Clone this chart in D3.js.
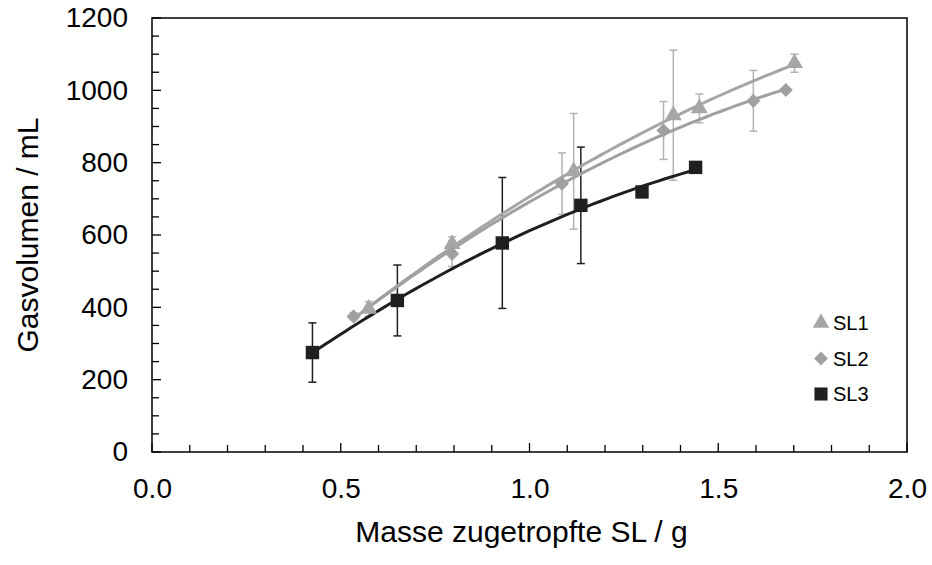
<!DOCTYPE html>
<html>
<head>
<meta charset="utf-8">
<script src="https://cdn.jsdelivr.net/npm/d3@7"></script>
<style>
body { margin: 0; background: #fff; }
svg text { font-family: Arial, "Liberation Sans", sans-serif; fill: #000; }
</style>
</head>
<body>
<div id="chart"></div>
<script>
// data
const seriesNames = ["SL1", "SL2", "SL3"];
const sl1X = [0.574, 0.795, 1.117, 1.381, 1.450, 1.702];
const sl1Y = [396, 575, 776, 931, 950, 1075];
const sl1Err = [20, 20, 160, 180, 40, 25];
const sl2X = [0.534, 0.795, 1.086, 1.355, 1.593, 1.679];
const sl2Y = [375, 548, 742, 889, 971, 1001];
const sl2Err = [10, 35, 85, 80, 84, 0];
const sl3X = [0.425, 0.650, 0.928, 1.136, 1.298, 1.440];
const sl3Y = [275, 419, 578, 682, 719, 787];
const sl3Err = [82, 98, 181, 161, 10, 0];
const xTicks = [0, 0.5, 1.0, 1.5, 2.0];
const yTicks = [0, 200, 400, 600, 800, 1000, 1200];

const W = 932, H = 565;
const m = {left: 152, top: 18, right: 25, bottom: 113};

const svg = d3.select("#chart").append("svg")
  .attr("width", W).attr("height", H);

const x = d3.scaleLinear().domain([0, 2]).range([m.left, W - m.right]);
const y = d3.scaleLinear().domain([0, 1200]).range([H - m.bottom, m.top]);

// frame
svg.append("rect")
  .attr("x", x(0)).attr("y", y(1200))
  .attr("width", x(2) - x(0)).attr("height", y(0) - y(1200))
  .attr("fill", "none").attr("stroke", "#000").attr("stroke-width", 1.5);

// minor ticks (inside)
const xMinor = d3.range(0, 21).map(d => d / 10);
const yMinor = d3.range(0, 25).map(d => d * 50);
svg.append("g").selectAll("line").data(xMinor).join("line")
  .attr("x1", d => x(d)).attr("x2", d => x(d))
  .attr("y1", y(0)).attr("y2", d => y(0) - (Math.round(d * 10) % 5 === 0 ? 9 : 7))
  .attr("stroke", "#000").attr("stroke-width", 1.3);
svg.append("g").selectAll("line").data(yMinor).join("line")
  .attr("y1", d => y(d)).attr("y2", d => y(d))
  .attr("x1", x(0)).attr("x2", d => x(0) + (d % 200 === 0 ? 9 : 7))
  .attr("stroke", "#000").attr("stroke-width", 1.3);

// axes labels via d3 axes, no lines
const xAxis = svg.append("g").attr("transform", `translate(0,${y(0)})`)
  .call(d3.axisBottom(x).tickValues(xTicks).tickFormat(d3.format(".1f")).tickSize(0).tickPadding(26));
const yAxis = svg.append("g").attr("transform", `translate(${x(0)},0)`)
  .call(d3.axisLeft(y).tickValues(yTicks).tickFormat(d3.format("d")).tickSize(0).tickPadding(24));
[xAxis, yAxis].forEach(a => {
  a.select(".domain").remove();
  a.selectAll("text").style("font-size", "28px").attr("fill", "#000")
    .style("font-family", "Arial, 'Liberation Sans', sans-serif");
});

svg.append("text")
  .attr("x", (x(0) + x(2)) / 2 - 8).attr("y", 542)
  .attr("text-anchor", "middle").style("font-size", "30px")
  .text("Masse zugetropfte SL / g");
svg.append("text")
  .attr("transform", `translate(38,${(y(0) + y(1200)) / 2}) rotate(-90)`)
  .attr("text-anchor", "middle").style("font-size", "30px")
  .text("Gasvolumen / mL");

const series = [
  {name: seriesNames[0], xs: sl1X, ys: sl1Y, err: sl1Err, color: "#a6a6a6", errColor: "#b3b3b3", sym: d3.symbolTriangle, size: 125, rot: 0},
  {name: seriesNames[1], xs: sl2X, ys: sl2Y, err: sl2Err, color: "#a0a0a0", errColor: "#b3b3b3", sym: d3.symbolSquare, size: 100, rot: 45},
  {name: seriesNames[2], xs: sl3X, ys: sl3Y, err: sl3Err, color: "#1f1f1f", errColor: "#1f1f1f", sym: d3.symbolSquare, size: 180, rot: 0}
];

// 2nd order polynomial trendline (least squares)
function polyFit(xs, ys) {
  const S = k => d3.sum(xs, v => Math.pow(v, k));
  const T = k => d3.sum(xs, (v, i) => Math.pow(v, k) * ys[i]);
  const A = [[S(0), S(1), S(2)], [S(1), S(2), S(3)], [S(2), S(3), S(4)]];
  const B = [T(0), T(1), T(2)];
  // gaussian elimination
  for (let c = 0; c < 3; c++) {
    for (let r = c + 1; r < 3; r++) {
      const f = A[r][c] / A[c][c];
      for (let k = c; k < 3; k++) A[r][k] -= f * A[c][k];
      B[r] -= f * B[c];
    }
  }
  const p = [0, 0, 0];
  for (let r = 2; r >= 0; r--) {
    let s = B[r];
    for (let k = r + 1; k < 3; k++) s -= A[r][k] * p[k];
    p[r] = s / A[r][r];
  }
  return v => p[0] + p[1] * v + p[2] * v * v;
}

const line = d3.line().x(d => x(d[0])).y(d => y(d[1]));

// error bars
series.forEach(s => {
  const g = svg.append("g");
  s.xs.forEach((xv, i) => {
    const e = s.err[i];
    if (!e) return;
    const cx = x(xv);
    g.append("line").attr("x1", cx).attr("x2", cx)
      .attr("y1", y(s.ys[i] - e)).attr("y2", y(s.ys[i] + e))
      .attr("stroke", s.errColor).attr("stroke-width", 1.5);
    [s.ys[i] - e, s.ys[i] + e].forEach(v => {
      g.append("line").attr("x1", cx - 4).attr("x2", cx + 4)
        .attr("y1", y(v)).attr("y2", y(v))
        .attr("stroke", s.errColor).attr("stroke-width", 1.5);
    });
  });
});

// trendlines
series.forEach(s => {
  const f = polyFit(s.xs, s.ys);
  const lo = d3.min(s.xs), hi = d3.max(s.xs);
  const pts = d3.range(0, 61).map(k => {
    const v = lo + (hi - lo) * k / 60;
    return [v, f(v)];
  });
  svg.append("path").datum(pts).attr("d", line)
    .attr("fill", "none").attr("stroke", s.color).attr("stroke-width", 3);
});

// markers
series.forEach(s => {
  svg.append("g").selectAll("path").data(s.xs.map((v, i) => [v, s.ys[i]])).join("path")
    .attr("d", d3.symbol().type(s.sym).size(s.size))
    .attr("transform", d => `translate(${x(d[0])},${y(d[1])}) rotate(${s.rot})`)
    .attr("fill", s.color);
});

// legend
const lg = svg.append("g").attr("transform", "translate(821,323)");
series.forEach((s, i) => {
  const row = lg.append("g").attr("transform", `translate(0,${i * 35.5})`);
  row.append("path").attr("d", d3.symbol().type(s.sym).size(s.size * 0.95))
    .attr("transform", `rotate(${s.rot})`).attr("fill", s.color);
  row.append("text").attr("x", 12).attr("y", 7).style("font-size", "20px").text(s.name);
});
</script>
</body>
</html>
